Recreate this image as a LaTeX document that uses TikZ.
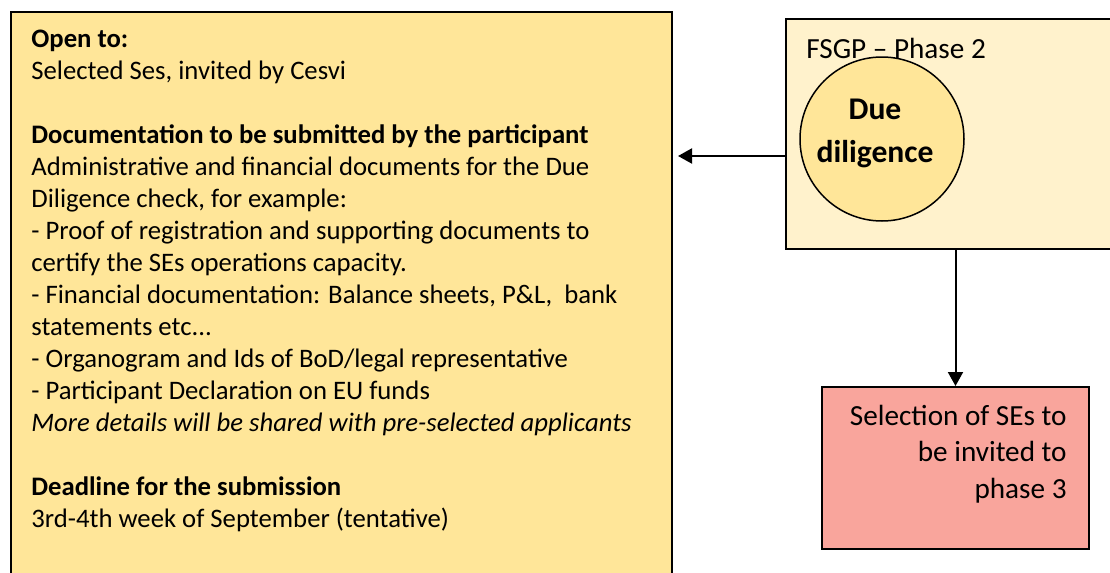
\documentclass[tikz,border=0pt]{standalone}
\usepackage{fontspec}
\setmainfont{Carlito}
\usetikzlibrary{arrows.meta}
\definecolor{goldfill}{HTML}{FFE699}
\definecolor{creamfill}{HTML}{FFF2CC}
\definecolor{salmonfill}{HTML}{F9A59C}
\tikzset{
  panel/.style={draw=black, line width=1pt, inner sep=0pt, anchor=north west},
  bodytext/.style={inner sep=0pt, align=left, anchor=base west, font=\fontsize{13.35}{16}\selectfont},
  link/.style={draw=black, line width=1pt, -{Triangle[length=7pt,width=7.5pt]}},
}
\begin{document}
\begin{tikzpicture}[x=0.5pt, y=-0.5pt]
\useasboundingbox (0,0) rectangle (1110,573);
\clip (0,0) rectangle (1110,573);

% information panel on the left (the anchor sits on the last baseline)
\node[panel, fill=goldfill, minimum width=330.5pt, minimum height=300pt] (info) at (10,11) {};
\node[bodytext] (infotext) at (31,527) {%
  \textbf{Open to:}\\
  Selected Ses, invited by Cesvi\\[16pt]
  \textbf{Documentation to be submitted by the participant}\\
  Administrative and financial documents for the Due\\
  Diligence check, for example:\\
  - Proof of registration and supporting documents to\\
  certify the SEs operations capacity.\\
  - Financial documentation: Balance sheets, P\&L,\ \ bank\\
  statements etc...\\
  - Organogram and Ids of BoD/legal representative\\
  - Participant Declaration on EU funds\\
  \textit{More details will be shared with pre-selected applicants}\\[16pt]
  \textbf{Deadline for the submission}\\
  3rd-4th week of September (tentative)};

% phase 2 panel
\node[panel, fill=creamfill, minimum width=170pt, minimum height=115pt] (phase) at (785,18) {};
\node[inner sep=0pt, anchor=base west, font=\fontsize{14.6}{17}\selectfont] (phaselabel) at (806,58) {FSGP – Phase 2};
\node[circle, draw=black, line width=0.75pt, fill=goldfill, minimum size=82pt, inner sep=0pt] (due) at (882,139) {};
\node[inner sep=0pt, anchor=base, align=center, font=\bfseries\fontsize{15.8}{21}\selectfont] (duetext) at (875,162) {Due\\diligence};

% selection box
\node[panel, fill=salmonfill, minimum width=133.5pt, minimum height=81pt] (select) at (821,386) {};
\node[inner sep=0pt, anchor=base east, align=right, font=\fontsize{14.6}{18.25}\selectfont] (selecttext) at (1067,498)
  {Selection of SEs to\\be invited to\\phase 3};

% connectors
\coordinate (arrowrow) at (784,156);
\draw[link, shorten >=2.5pt] (phase.west |- arrowrow) -- (info.east |- arrowrow);
\draw[link] (select.north |- phase.south) -- (select.north);
\end{tikzpicture}
\end{document}
